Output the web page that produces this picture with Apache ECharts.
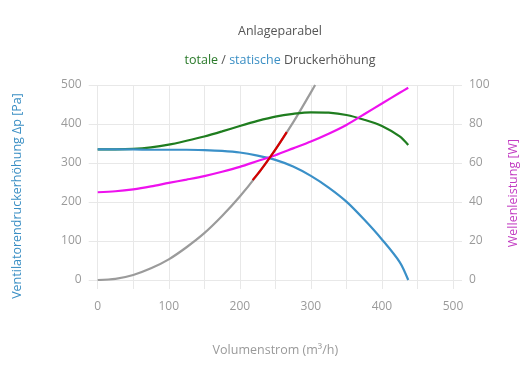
<!DOCTYPE html>
<html><head><meta charset="utf-8">
<script src="https://cdn.jsdelivr.net/npm/echarts@6/dist/echarts.min.js"></script>
<style>html,body{margin:0;padding:0;background:#fff}#c{width:530px;height:390px}</style>
</head><body><div id="c"></div>
<script>
// Volumenstrom (m³/h) sample points and read values
const totalX = [0,25,50,75,100,125,150,175,200,225,250,275,300,325,350,375,400,425,437];
const totalY = [335,335,336,340,347,357,368,381,395,408,419,426,430,429,423,411,395,368,346];
const staticX = [0,25,50,75,100,125,150,175,200,225,250,275,300,325,350,375,400,425,437];
const staticY = [335,335,335,334,334,334,333,331,327,319,308,291,267,237,201,155,104,46,0];
const powerX = [0,25,50,75,100,125,150,175,200,225,250,275,300,325,350,375,400,425,437];
const powerY = [45,45.5,46.5,48,49.8,51.5,53.3,55.5,58,61,64,67.5,71,75,79.5,85,90.5,96,98.6];
const paraX = [0,25,50,75,100,125,150,175,200,225,250,275,300,306];
const paraY = [0,3,13,30,53,84,120,164,214,271,334,404,481,500];
const redX = [218,230,242,254,266];
const redY = [256,283,313,345,379];
const xTicks = [0,100,200,300,400,500];
const yLeftTicks = [0,100,200,300,400,500];
const yRightTicks = [0,20,40,60,80,100];

const pair = (xs, ys) => xs.map((x,i)=>[x,ys[i]]);
const FONT = 'Open Sans';
const grid = {left:97.7, right:77, top:85, bottom:110};
const chart = echarts.init(document.getElementById('c'));
const gridColor = '#e8e8e8';
const labelColor = '#9a9a9a';
const lineSeries = (name, xs, ys, color, z, yAxisIndex) => ({
  name, type:'line', data:pair(xs,ys), smooth:0.3, showSymbol:false,
  yAxisIndex: yAxisIndex || 0, lineStyle:{color, width:2.2}, z
});
chart.setOption({
  animation:false,
  textStyle:{fontFamily:FONT},
  title:[
    {text:'Anlageparabel', left:275, top:20, textAlign:'center',
     textStyle:{fontFamily:FONT,fontSize:12.5,fontWeight:'normal',color:'#555'}},
    {text:'{g|totale} {d|/} {b|statische} {d|Druckerhöhung}', left:275, top:49, textAlign:'center',
     textStyle:{fontFamily:FONT,fontSize:12.5,fontWeight:'normal',color:'#555',
       rich:{g:{color:'#2a7a2a',fontSize:12.5,fontFamily:FONT},
             b:{color:'#3b8fc4',fontSize:12.5,fontFamily:FONT},
             d:{color:'#555',fontSize:12.5,fontFamily:FONT}}}}
  ],
  grid: grid,
  xAxis:{type:'value',min:0,max:500,interval:50,
    name:'Volumenstrom (m³/h)',nameLocation:'middle',nameGap:64,
    nameTextStyle:{color:labelColor,fontSize:12.5,fontFamily:FONT},
    axisLine:{show:false},
    axisTick:{show:true,length:9,lineStyle:{color:gridColor}},
    axisLabel:{color:labelColor,fontSize:12,margin:21,fontFamily:FONT,
      formatter:v=> xTicks.includes(v)? String(v):''},
    splitLine:{show:true,lineStyle:{color:gridColor}}},
  yAxis:[
    {type:'value',min:0,max:500,interval:100,position:'left',
     axisLine:{show:false},
     axisTick:{show:true,length:9,lineStyle:{color:gridColor}},
     axisLabel:{color:labelColor,fontSize:12,margin:16,fontFamily:FONT,
       formatter:v=> yLeftTicks.includes(v)? String(v):''},
     splitLine:{show:true,lineStyle:{color:gridColor}}},
    {type:'value',min:0,max:100,interval:20,position:'right',
     axisLine:{show:false},
     axisTick:{show:true,length:9,lineStyle:{color:gridColor}},
     axisLabel:{color:labelColor,fontSize:12,margin:16,fontFamily:FONT,
       formatter:v=> yRightTicks.includes(v)? String(v):''},
     splitLine:{show:false}}
  ],
  graphic:[
    {type:'text', x:17, y:196, rotation:Math.PI/2,
     style:{text:'Ventilatorendruckerhöhung Δp [Pa]', fill:'#3b8fc4', font:'12.5px "'+FONT+'"',
       textAlign:'center', textVerticalAlign:'middle'}},
    {type:'text', x:513, y:193, rotation:Math.PI/2,
     style:{text:'Wellenleistung [W]', fill:'#c23cc2', font:'12.5px "'+FONT+'"',
       textAlign:'center', textVerticalAlign:'middle'}}
  ],
  series:[
    lineSeries('Anlageparabel', paraX, paraY, '#9b9b9b', 2),
    lineSeries('totale', totalX, totalY, '#1f7d1f', 3),
    lineSeries('statische', staticX, staticY, '#3a90c8', 3),
    lineSeries('Wellenleistung', powerX, powerY, '#ee11ee', 4, 1),
    lineSeries('Betriebsbereich', redX, redY, '#d40000', 5)
  ]
});
</script></body></html>
